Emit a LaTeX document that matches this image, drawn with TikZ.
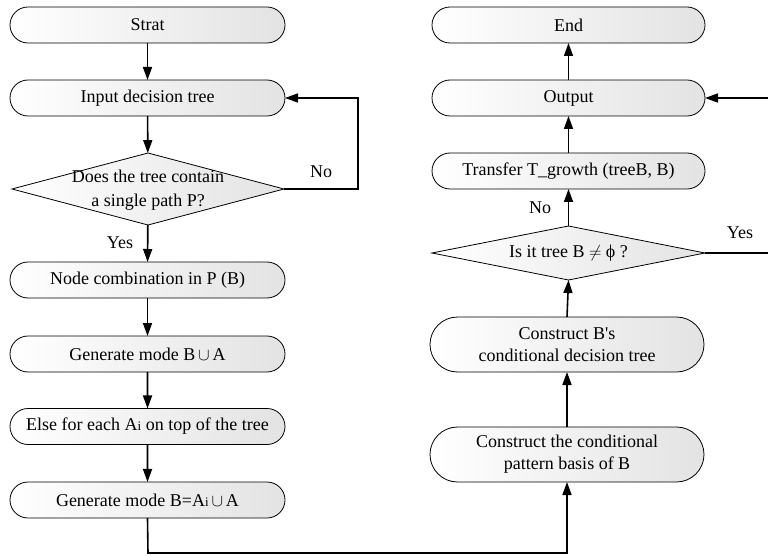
\documentclass[tikz,border=0pt]{standalone}
\usepackage{fontspec}
\setmainfont{Liberation Serif}[Ligatures=TeXOff]
\usetikzlibrary{shapes.misc,shapes.geometric,arrows.meta}

\tikzset{
  base/.style={draw=black, line width=0.8pt, left color=white, right color=black!11,
    font=\fontsize{18}{22}\selectfont, align=center, inner sep=0pt, outer sep=0pt},
  proc/.style={base, rounded rectangle, minimum height=36pt},
  proctwo/.style={base, rounded rectangle, minimum height=55pt},
  decide/.style={base, diamond},
  txt/.style={font=\fontsize{18}{24}\selectfont, align=center, inner sep=0pt},
  flow/.style={line width=1.6pt, -{Triangle[length=13pt,width=9pt]}},
  wire/.style={line width=1.6pt},
}
\newcommand{\smi}{{\fontsize{13}{13}\selectfont i}}

\begin{document}
\begin{tikzpicture}[x=1pt,y=-1pt]
\useasboundingbox (0,0) rectangle (768,556);

% left column
\node[proc, minimum width=275pt] (start) at (147.5,25) {Strat};
\node[proc, minimum width=275pt] (input) at (147.5,98) {Input decision tree};
\node[decide, minimum width=272pt, minimum height=72pt] (single) at (148,189) {};
\node[txt] (singlet) at (148,190) {Does the tree contain\\a single path P?};
\node[proc, minimum width=275pt] (comb) at (147.5,280) {Node combination in P (B)};
\node[proc, minimum width=275pt] (gen1) at (147.5,354) {Generate mode B$\,\cup\,$A};
\node[proc, minimum width=275pt] (each) at (147.5,426.5) {Else for each A\smi{} on top of the tree};
\node[proc, minimum width=275pt] (gen2) at (147.5,500) {Generate mode B=A\smi$\,\cup\,$A};

% right column
\node[proc, minimum width=273pt] (end) at (568.5,25) {End};
\node[proc, minimum width=273pt] (out) at (568.5,98) {Output};
\node[proc, minimum width=273pt] (trans) at (568.5,171) {Transfer T\_growth (treeB, B)};
\node[decide, minimum width=273pt, minimum height=54pt] (empty) at (568.5,253) {};
\node[txt] (emptyt) at (568.5,253) {Is it tree B $\neq$ ϕ ?};
\node[proctwo, minimum width=274pt] (cond) at (567,344.5) {Construct B's\\conditional decision tree};
\node[proctwo, minimum width=274pt] (basis) at (567,454.5) {Construct the conditional\\pattern basis of B};

% free ends at the right border
\coordinate (outin) at (768,98);
\coordinate (yesout) at (768,253);
\coordinate (loop) at (358,189);
\coordinate (low) at (148,553);

% connectors, left column
\draw[flow] (start) -- (input);
\draw[flow] (input) -- (single);
\draw[flow] (single) -- (comb);
\draw[flow] (comb) -- (gen1);
\draw[flow] (gen1) -- (each);
\draw[flow] (each) -- (gen2);
\draw[flow] (single.east) -- (loop) |- (input.east);

% connector across the bottom
\draw[flow] (gen2.south) -- (low) -| (basis.south);

% connectors, right column
\draw[flow] (basis) -- (cond);
\draw[flow] (cond.north) -- (empty.south);
\draw[flow] (empty.north) -- (trans.south);
\draw[flow] (trans) -- (out);
\draw[flow] (out) -- (end);
\draw[flow] (outin) -- (out.east);
\draw[wire] (empty.east) -- (yesout);

% branch labels
\node[txt] (lno1) at (321,172) {No};
\node[txt] (lyes1) at (120,243) {Yes};
\node[txt] (lno2) at (540,208) {No};
\node[txt] (lyes2) at (740,233) {Yes};
\end{tikzpicture}
\end{document}
